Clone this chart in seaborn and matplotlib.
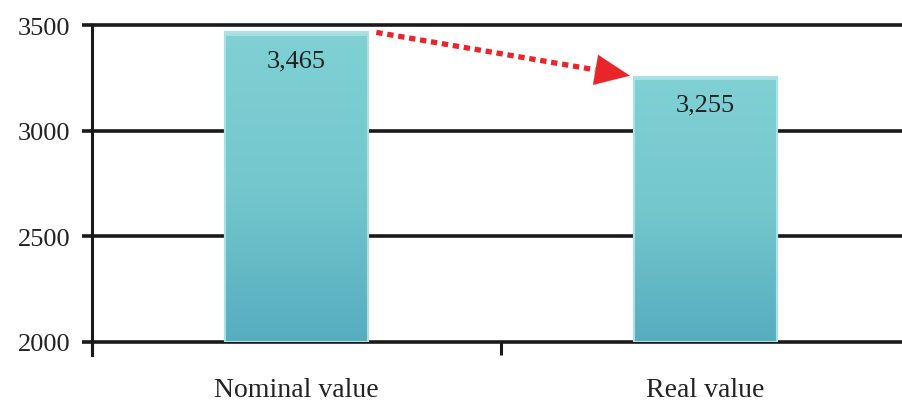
import numpy as np
import pandas as pd
import matplotlib
matplotlib.use("Agg")
import matplotlib.pyplot as plt
import seaborn as sns
from matplotlib.colors import LinearSegmentedColormap

categories = ["Nominal value", "Real value"]
values = [3465, 3255]
value_labels = ["3,465", "3,255"]
y_ticks = [2000, 2500, 3000, 3500]

df = pd.DataFrame({"kind": categories, "amount": values})

sns.set_theme(style="white")
plt.rcParams["font.family"] = ["Liberation Serif", "DejaVu Serif"]

fig = plt.figure(figsize=(9.02, 4.02), dpi=100)
ax = fig.add_axes([0.102, 0.1468, 0.898, 0.7885])

sns.barplot(data=df, x="kind", y="amount", ax=ax, width=0.35,
            color="#6cc3cb", edgecolor="#a9e1e4", linewidth=1.5, zorder=3)

y_min, y_max = 2000, 3500
ax.set_xlabel("")
ax.set_ylabel("")

# vertical gradient fill for the visible part of each bar
cmap = LinearSegmentedColormap.from_list("teal", ["#7fd1d4", "#74c7cd", "#56adbf"])
grad = np.linspace(0, 1, 256).reshape(-1, 1)
for bar in list(ax.patches):
    x0, y0 = bar.get_x(), bar.get_y()
    w, h = bar.get_width(), bar.get_height()
    top = y0 + h
    ax.imshow(grad, cmap=cmap, aspect="auto", extent=(x0, x0 + w, y_min, top),
              origin="upper", zorder=3.5)
    # pale bevel strip along the top
    ax.add_patch(plt.Rectangle((x0, top - 16), w, 16, color="#a6dee1",
                               zorder=3.6, lw=0))
    ax.add_patch(plt.Rectangle((x0, y_min), w, top - y_min, fill=False,
                               edgecolor="#a9e1e4", lw=1.5, zorder=3.7))

ax.set_xlim(-0.5, 1.48)
ax.set_ylim(y_min, y_max)
ax.set_yticks(y_ticks)
ax.set_yticklabels([str(t) for t in y_ticks])

# value labels inside the bars
for i, (v, lab) in enumerate(zip(values, value_labels)):
    ax.text(i, v - 132, lab, ha="center", va="center", fontsize=19,
            color="#222222", zorder=5)

# horizontal grid lines
ax.yaxis.grid(True, color="#1a1a1a", linewidth=2.6, zorder=1)
for gl in ax.get_ygridlines():
    gl.set_clip_on(False)
ax.xaxis.grid(False)

for side in ["top", "right", "bottom"]:
    ax.spines[side].set_visible(False)
ax.spines["left"].set_color("#1a1a1a")
ax.spines["left"].set_linewidth(2.2)
ax.spines["left"].set_bounds(1940, 3500)
ax.spines["left"].set_zorder(4)

ax.tick_params(axis="y", which="major", direction="out", length=7.5, width=2.6,
               color="#1a1a1a", labelsize=19, labelcolor="#222222", pad=8, left=True)
ax.tick_params(axis="x", which="major", length=0, labelsize=20,
               labelcolor="#222222", pad=25)
ax.set_xticks([-0.5, 0.5], minor=True)
ax.tick_params(axis="x", which="minor", direction="out", length=9.5, width=2.2,
               color="#1a1a1a", bottom=True)

# red dotted arrow from the nominal bar to the real bar
w = 0.35
tail = (w / 2 + 0.02, values[0])
tip = (1 - w / 2 - 0.01, values[1] + 5)
head_len = 0.085
dx, dy = tip[0] - tail[0], tip[1] - tail[1]
frac = 1 - head_len / dx
base = (tail[0] + dx * frac, tail[1] + dy * frac)
ax.plot([tail[0], base[0]], [tail[1], base[1]], color="#e8262a", lw=3.8,
        linestyle=(0, (1.2, 0.9)), dash_capstyle="butt", zorder=6, clip_on=False)
ax.annotate("", xy=tip, xytext=base, zorder=6,
            arrowprops=dict(arrowstyle="-|>,head_length=1.25,head_width=0.55",
                            color="#e8262a", lw=0.1, mutation_scale=20,
                            shrinkA=0, shrinkB=0))

fig.savefig("out.png", dpi=100)
